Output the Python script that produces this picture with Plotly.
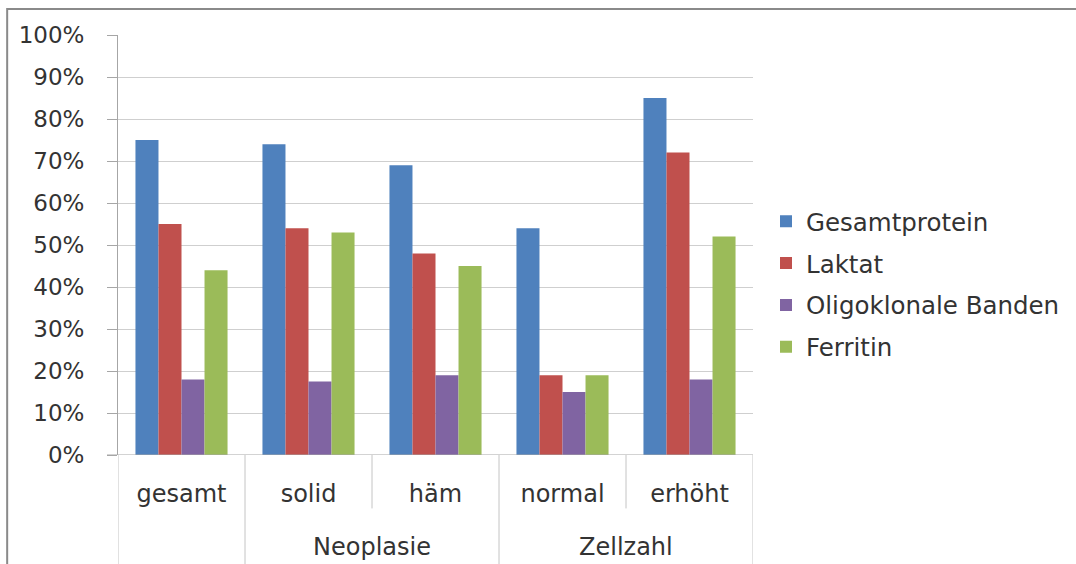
import plotly.graph_objects as go

# Data
categories = ["gesamt", "solid", "häm", "normal", "erhöht"]
groups = [("Neoplasie", 1, 2), ("Zellzahl", 3, 4)]
series_names = ["Gesamtprotein", "Laktat", "Oligoklonale Banden", "Ferritin"]
gesamtprotein = [0.75, 0.74, 0.69, 0.54, 0.85]
laktat = [0.55, 0.54, 0.48, 0.19, 0.72]
oligoklonale = [0.18, 0.175, 0.19, 0.15, 0.18]
ferritin = [0.44, 0.53, 0.45, 0.19, 0.52]
y_ticks = [i / 10 for i in range(11)]

colors = ["#4F81BD", "#C0504D", "#8064A2", "#9BBB59"]
values = [gesamtprotein, laktat, oligoklonale, ferritin]

W, H = 1076, 564
ML, MR, MT, MB = 118, 322, 35, 108.5
plot_w = W - ML - MR
plot_h = H - MT - MB

FONT = "DejaVu Sans"
TXT = "#333333"
GRID = "#cfcfcf"
AXIS = "#a6a6a6"

fig = go.Figure()
xs = list(range(len(categories)))
for name, vals, col in zip(series_names, values, colors):
    fig.add_trace(go.Bar(
        x=xs, y=vals, name=name, legendgroup=name,
        marker=dict(color=col, line=dict(width=0)),
    ))


def px_x(p):
    return (p - ML) / plot_w


def px_y(p):
    return (H - MB - p) / plot_h


shapes = []
# category dividers below the axis
y_bottom = px_y(H + 5)
y_short = px_y(509)
for b in [-0.5, 0.5, 1.5, 2.5, 3.5, 4.5]:
    full = b not in (1.5, 3.5)
    shapes.append(dict(type="line", xref="x", yref="paper", x0=b, x1=b,
                       y0=0, y1=y_bottom if full else y_short,
                       line=dict(color="#c4c4c4", width=1)))
# horizontal axis line incl. the left tick stub
shapes.append(dict(type="line", xref="paper", yref="y", x0=px_x(107), x1=px_x(754),
                   y0=0, y1=0, line=dict(color=AXIS, width=1)))
# outer chart frame
shapes.append(dict(type="rect", xref="paper", yref="paper",
                   x0=px_x(7), x1=px_x(W + 10), y0=px_y(H + 10), y1=px_y(9),
                   line=dict(color="#8a8a8a", width=2), fillcolor="rgba(0,0,0,0)",
                   layer="below"))

annotations = []
for label, a, b in groups:
    annotations.append(dict(text=label, xref="x", yref="paper", x=(a + b) / 2,
                            y=px_y(548), showarrow=False,
                            font=dict(family=FONT, size=24, color=TXT),
                            xanchor="center", yanchor="middle"))

fig.update_layout(
    width=W, height=H,
    margin=dict(l=ML, r=MR, t=MT, b=MB, pad=0),
    paper_bgcolor="white", plot_bgcolor="white",
    barmode="group", bargap=0.275, bargroupgap=0,
    font=dict(family=FONT, size=23, color=TXT),
    showlegend=True,
    legend=dict(x=px_x(766), y=px_y(199), xanchor="left", yanchor="top",
                font=dict(family=FONT, size=24.5, color=TXT),
                tracegroupgap=7, bgcolor="rgba(0,0,0,0)"),
    shapes=shapes,
    annotations=annotations,
)

fig.update_xaxes(
    type="linear", range=[-0.5, 4.5],
    tickmode="array", tickvals=xs, ticktext=categories,
    tickfont=dict(family=FONT, size=24, color=TXT),
    ticks="", showgrid=False, zeroline=False, showline=False,
    ticklabelstandoff=22,
)
fig.update_yaxes(
    range=[0, 1], tickmode="array", tickvals=y_ticks, tickformat=".0%",
    tickfont=dict(family=FONT, size=23, color=TXT),
    showgrid=True, gridcolor=GRID, gridwidth=1,
    showline=True, linecolor=AXIS, linewidth=1,
    ticks="outside", ticklen=10, tickcolor=AXIS,
    zeroline=False, ticklabelstandoff=18,
)

fig.write_html("out.html")
